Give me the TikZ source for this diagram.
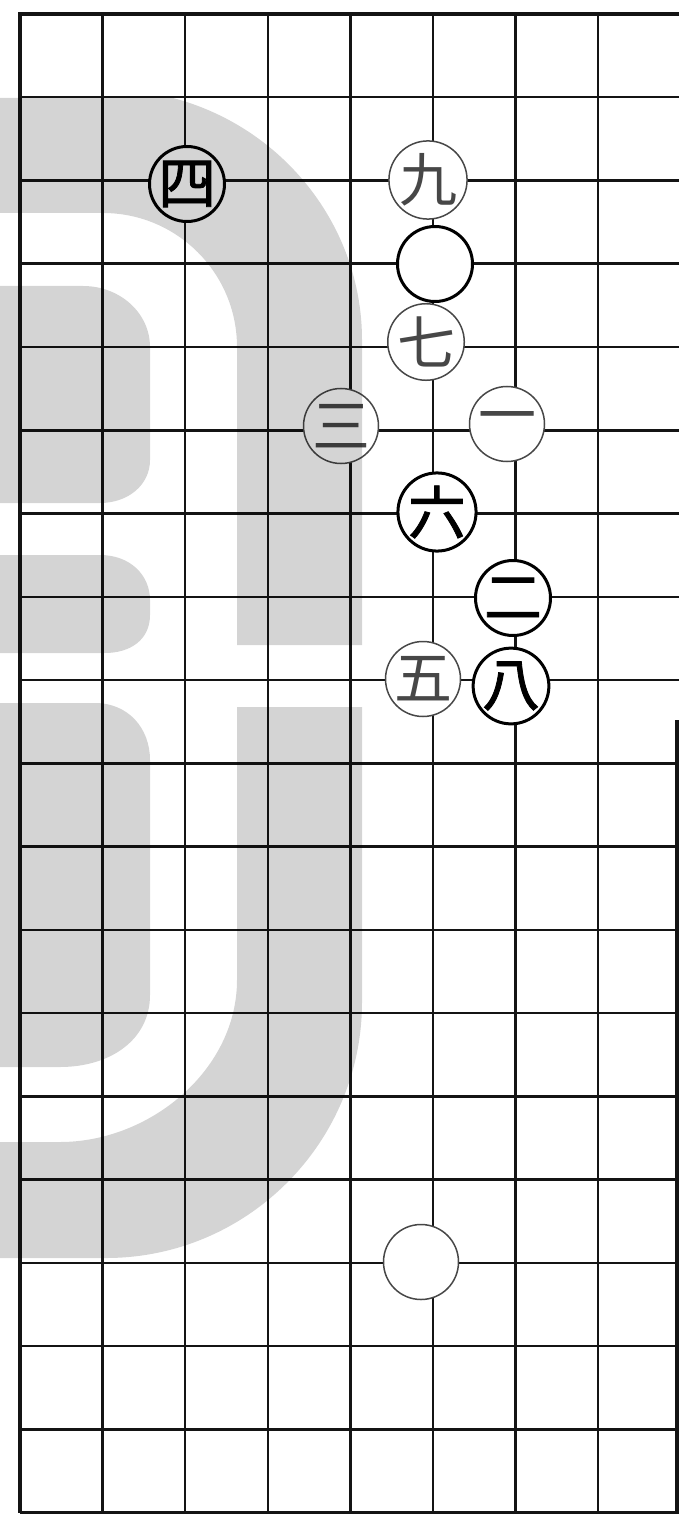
\documentclass[tikz,border=0pt]{standalone}
\usepackage{fontspec}
\newfontfamily\kanji{Noto Sans CJK JP}
\newfontfamily\kanjibold{Noto Sans CJK JP}[FakeBold=1.4]

\begin{document}
\begin{tikzpicture}[
  x=0.5pt, y=-0.5pt,
  every node/.style={font=\kanji\fontsize{29}{29}\selectfont},
  boardline/.style={line width=1.25pt, black!92},
  edgeline/.style={line width=1.6pt, black!92},
  boldstone/.style={circle, draw, fill=white, minimum size=37.5pt,
                    inner sep=0pt, line width=1.5pt, font=\kanjibold\fontsize{29}{29}\selectfont},
  thinstone/.style={circle, draw=black!72, fill=white, minimum size=37.5pt,
                    inner sep=0pt, line width=0.75pt, text=black!72},
  watermark/.style={fill=black, fill opacity=0.17},
]
\useasboundingbox (0,0) rectangle (679,1518);
\fill[white] (0,0) rectangle (679,1518);
% board grid
\foreach \i in {1,...,7}
  \draw[boardline] ({20+82.6*\i},14) -- ({20+82.6*\i},1513);
\foreach \j in {1,...,17}
  \draw[boardline] (20,{14+83.25*\j}) -- (679,{14+83.25*\j});
\draw[edgeline] (679,14) -- (20,14) -- (20,1513);
\draw[edgeline] (20,1512.5) -- (677,1512.5) -- (677,720);
% stones (move numbers)
\node[boldstone] (s4) at (187,184) {四};
\node[thinstone] (s9) at (428,180) {九};
\node[boldstone] (blank1) at (435,264) {};
\node[thinstone] (s7) at (426,342) {七};
\node[thinstone] (s3) at (341,426) {三};
\node[thinstone] (s1) at (507,424) {一};
\node[boldstone] (s6) at (437,512) {六};
\node[boldstone] (s2) at (513,598) {二};
\node[thinstone] (s5) at (423,679) {五};
\node[boldstone] (s8) at (511,686) {八};
\node[thinstone] (blank2) at (421,1262) {};
% grey watermark over the page
\fill[watermark]
  % outer ring, upper part
  (0,98) -- (173,98) .. controls (283,127) and (362,226) .. (362,340)
  -- (362,645) -- (237,645) -- (237,347)
  .. controls (237,273) and (177,213) .. (103,213) -- (0,213) -- cycle
  % outer ring, lower part
  (362,707) -- (362,1002) .. controls (362,1143) and (247,1258) .. (106,1258)
  -- (0,1258) -- (0,1142) -- (60,1142)
  .. controls (150,1142) and (237,1070) .. (237,980) -- (237,707) -- cycle
  % inner pieces
  (0,286) -- (83,286) .. controls (120,286) and (150,313) .. (150,347)
  -- (150,460) .. controls (150,485) and (128,503) .. (100,503) -- (0,503) -- cycle
  (0,555) -- (100,555) .. controls (130,555) and (150,575) .. (150,600)
  -- (150,615) .. controls (150,640) and (130,653) .. (105,653) -- (0,653) -- cycle
  (0,703) -- (95,703) .. controls (128,703) and (150,728) .. (150,760)
  -- (150,995) .. controls (150,1040) and (110,1067) .. (60,1067) -- (0,1067) -- cycle;
\end{tikzpicture}
\end{document}
